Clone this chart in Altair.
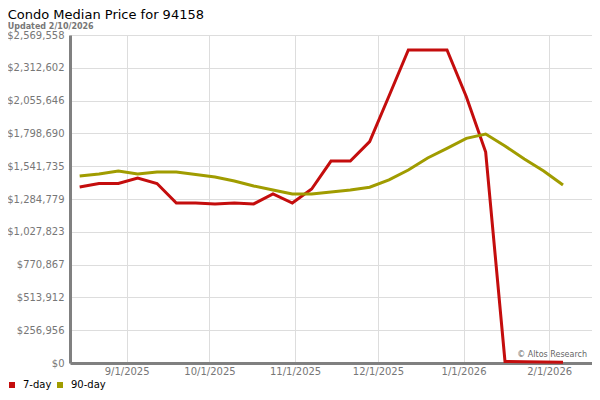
import altair as alt
import pandas as pd

dates = [
    "2025-08-15", "2025-08-22", "2025-08-29", "2025-09-05", "2025-09-12", "2025-09-19",
    "2025-09-26", "2025-10-03", "2025-10-10", "2025-10-17", "2025-10-24", "2025-10-31",
    "2025-11-07", "2025-11-14", "2025-11-21", "2025-11-28", "2025-12-05", "2025-12-12",
    "2025-12-19", "2025-12-26", "2026-01-02", "2026-01-09", "2026-01-16", "2026-01-23",
    "2026-01-30", "2026-02-06",
]
seven_day = [
    1378800, 1406000, 1406000, 1449000, 1406000, 1253000,
    1253000, 1246000, 1253000, 1246000, 1324000, 1253000,
    1363000, 1582000, 1582000, 1734000, 2092000, 2452000,
    2452000, 2452000, 2086000, 1653000, 12000, 10000,
    8000, 5000,
]
ninety_day = [
    1465000, 1481000, 1504000, 1481000, 1496000, 1496000,
    1477000, 1457000, 1426000, 1387000, 1355000, 1324000,
    1324000, 1340000, 1355000, 1377000, 1434000, 1512000,
    1606000, 1682000, 1760000, 1794000, 1700000, 1598000,
    1504000, 1394000,
]
series_names = ["7-day", "90-day"]
series_colors = ["#c40d0d", "#a09c00"]
y_max = 2569558
y_ticks = [0, 256956, 513912, 770867, 1027823, 1284779, 1541735, 1798690, 2055646, 2312602, 2569558]
x_ticks = [(2025, 9), (2025, 10), (2025, 11), (2025, 12), (2026, 1), (2026, 2)]

rows = []
for d, a, b in zip(dates, seven_day, ninety_day):
    rows.append({"date": d + "T00:00:00", "series": "7-day", "value": a})
    rows.append({"date": d + "T00:00:00", "series": "90-day", "value": b})
df = pd.DataFrame(rows)

x_vals = [alt.DateTime(year=y, month=m, date=1) for y, m in x_ticks]

lines = alt.Chart(df).mark_line(strokeWidth=3, strokeJoin="miter").encode(
    x=alt.X(
        "date:T",
        title=None,
        scale=alt.Scale(domain=[alt.DateTime(year=2025, month=8, date=11, hours=12),
                                alt.DateTime(year=2026, month=2, date=16, hours=12)]),
        axis=alt.Axis(
            values=x_vals, format="%-m/%-d/%Y", labelFont="DejaVu Sans", labelFontSize=10,
            labelColor="#777", domainColor="#808080", domainWidth=3, ticks=False,
            gridColor="#dddddd", gridWidth=1, labelPadding=3,
        ),
    ),
    y=alt.Y(
        "value:Q",
        title=None,
        scale=alt.Scale(domain=[0, y_max], nice=False),
        axis=alt.Axis(
            values=y_ticks, format="$,d", labelFont="DejaVu Sans", labelFontSize=10,
            labelColor="#777", domainColor="#808080", domainWidth=3, ticks=False,
            gridColor="#dddddd", gridWidth=1, labelPadding=6,
        ),
    ),
    color=alt.Color(
        "series:N",
        scale=alt.Scale(domain=series_names, range=series_colors),
        legend=alt.Legend(
            title=None, orient="none", legendX=-63, legendY=345, direction="horizontal",
            symbolType="square", symbolSize=9, symbolStrokeWidth=3, labelFont="DejaVu Sans",
            labelFontSize=10, labelColor="#000", columnPadding=0, labelOffset=6,
            gridAlign="none",
        ),
    ),
)

credit = alt.Chart(pd.DataFrame({"t": ["© Altos Research"]})).mark_text(
    align="right", baseline="alphabetic", font="DejaVu Sans", fontSize=8, color="#666"
).encode(x=alt.value(517), y=alt.value(322), text="t:N")

chart = alt.layer(lines, credit).properties(
    width=522,
    height=328,
    autosize=alt.AutoSizeParams(type="none"),
    padding={"left": 62, "top": 27, "right": 0, "bottom": 29},
    title=alt.TitleParams(
        text="Condo Median Price for 94158",
        subtitle="Updated 2/10/2026",
        anchor="start", frame="bounds", dx=1, offset=-1,
        font="DejaVu Sans", fontSize=13, fontWeight="normal", color="#000",
        subtitleFont="DejaVu Sans", subtitleFontSize=8, subtitleFontWeight="bold",
        subtitleColor="#777", subtitlePadding=1,
    ),
).configure_view(stroke="#dddddd")

chart.save("out.html", embed_options={"renderer": "svg", "actions": False})
